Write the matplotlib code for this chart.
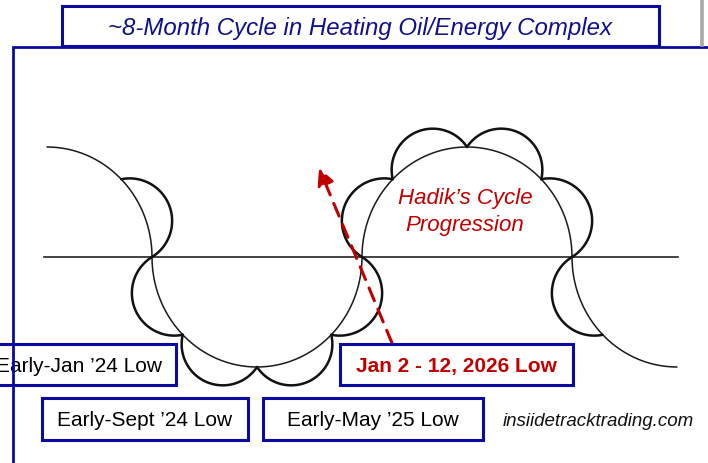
import numpy as np
import matplotlib
matplotlib.use("Agg")
import matplotlib.pyplot as plt
from matplotlib.patches import Rectangle

# ---- diagram data (pixel space of the 708x464 picture) ----
baseline_y = 258
baseline_x = [44, 678]
lobe_centers = [47, 257, 467, 677]          # cycle lobe centres on the baseline
lobe_sides = [1, -1, 1, -1]                  # +1 = crest (above), -1 = trough (below)
lobe_rx = 105
lobe_ry = 110
lobe_arc_ranges = [(0, 90), (180, 360), (0, 180), (180, 270)]   # degrees visible
lobe_scallops = [[(0, 45)],
                 [(180, 225), (225, 270), (270, 315), (315, 360)],
                 [(0, 45), (45, 90), (90, 135), (135, 180)],
                 [(180, 225)]]
scallop_inset = 0.18

title = "~8-Month Cycle in Heating Oil/Energy Complex"
hadik_text = "Hadik\u2019s Cycle\nProgression"
label_texts = ["Early-Jan \u201924 Low", "Early-Sept \u201924 Low",
               "Early-May \u201925 Low", "Jan 2 - 12, 2026 Low"]
label_boxes = [(-3, 345, 179, 41), (42, 399, 206, 42), (263, 399, 220, 42), (340, 345, 233, 41)]
label_text_x = [79, 145, 373, 456]
label_colors = ["black", "black", "black", "#C00000"]
label_weights = ["normal", "normal", "normal", "bold"]
arrow_start = (392, 344)
arrow_end = (319, 169)
watermark = "insiidetracktrading.com"

BLUE = "#0A0AA0"
RED = "#C00000"

fig = plt.figure(figsize=(7.08, 4.64), dpi=100)
ax = fig.add_axes([0, 0, 1, 1])
ax.set_xlim(0, 708)
ax.set_ylim(464, 0)
ax.axis("off")

plt.rcParams["font.family"] = ["Liberation Sans", "DejaVu Sans"]


def lobe_pt(cx, side, theta_deg):
    t = np.radians(theta_deg)
    return np.array([cx + lobe_rx * np.cos(t), baseline_y - lobe_ry * np.sin(t)])


# baseline
ax.plot(baseline_x, [baseline_y, baseline_y], color="#222222", lw=1.2, zorder=2)

# big lobes
for cx, side, (a0, a1) in zip(lobe_centers, lobe_sides, lobe_arc_ranges):
    th = np.linspace(a0, a1, 200)
    pts = np.array([lobe_pt(cx, side, t) for t in th])
    ax.plot(pts[:, 0], pts[:, 1], color="#1a1a1a", lw=1.1, zorder=2,
            solid_capstyle="round")

# scallops
for cx, side, segs in zip(lobe_centers, lobe_sides, lobe_scallops):
    for (a0, a1) in segs:
        p1 = lobe_pt(cx, side, a0)
        p2 = lobe_pt(cx, side, a1)
        m = (p1 + p2) / 2
        chord = p2 - p1
        c = np.linalg.norm(chord) / 2
        n = np.array([-chord[1], chord[0]]) / (2 * c)
        if np.dot(n, m - np.array([cx, baseline_y])) < 0:
            n = -n
        h = scallop_inset * c
        ctr = m - h * n
        R = np.hypot(h, c)
        b1 = np.arctan2(*(p1 - ctr)[::-1])
        b2 = np.arctan2(*(p2 - ctr)[::-1])
        d = (b2 - b1 + np.pi) % (2 * np.pi) - np.pi
        bb = np.linspace(b1, b1 + d, 120)
        ax.plot(ctr[0] + R * np.cos(bb), ctr[1] + R * np.sin(bb),
                color="#111111", lw=1.8, zorder=2, solid_capstyle="round")

# red dashed arrow
ax.annotate("", xy=arrow_end, xytext=arrow_start,
            arrowprops=dict(arrowstyle="-|>,head_length=1.0,head_width=0.5",
                            color=RED, lw=2.2, linestyle=(0, (4.5, 3)),
                            shrinkA=0, shrinkB=0), zorder=4)

# Hadik text
ax.text(465, 212, hadik_text, color=RED, fontsize=16, style="italic",
        ha="center", va="center", linespacing=1.4, zorder=5)

# label boxes
for (x, y, w, hgt), txt, tx, col, wt in zip(label_boxes, label_texts, label_text_x,
                                             label_colors, label_weights):
    ax.add_patch(Rectangle((x, y), w, hgt, facecolor="white", edgecolor=BLUE,
                           lw=2.2, zorder=6))
    ax.text(tx, y + hgt / 2 + 1, txt, color=col, fontsize=15, fontweight=wt,
            ha="center", va="center", zorder=7)

ax.text(598, 422, watermark, fontsize=13.5, style="italic", color="#111111",
        ha="center", va="center", zorder=7)

# outer frame
ax.plot([13, 13, 710], [470, 48, 48], color=BLUE, lw=2.0, zorder=8,
        solid_joinstyle="miter")

# title box
ax.add_patch(Rectangle((62, 7), 597, 40, facecolor="white", edgecolor=BLUE,
                       lw=2.2, zorder=9))
ax.text(360, 28, title, color="#10108A", fontsize=17.3, style="italic",
        ha="center", va="center", zorder=10)

# grey divider at top right
ax.plot([702, 702], [0, 46], color="#A8A8A8", lw=2.6, zorder=9)

fig.savefig("out.png", dpi=100)
